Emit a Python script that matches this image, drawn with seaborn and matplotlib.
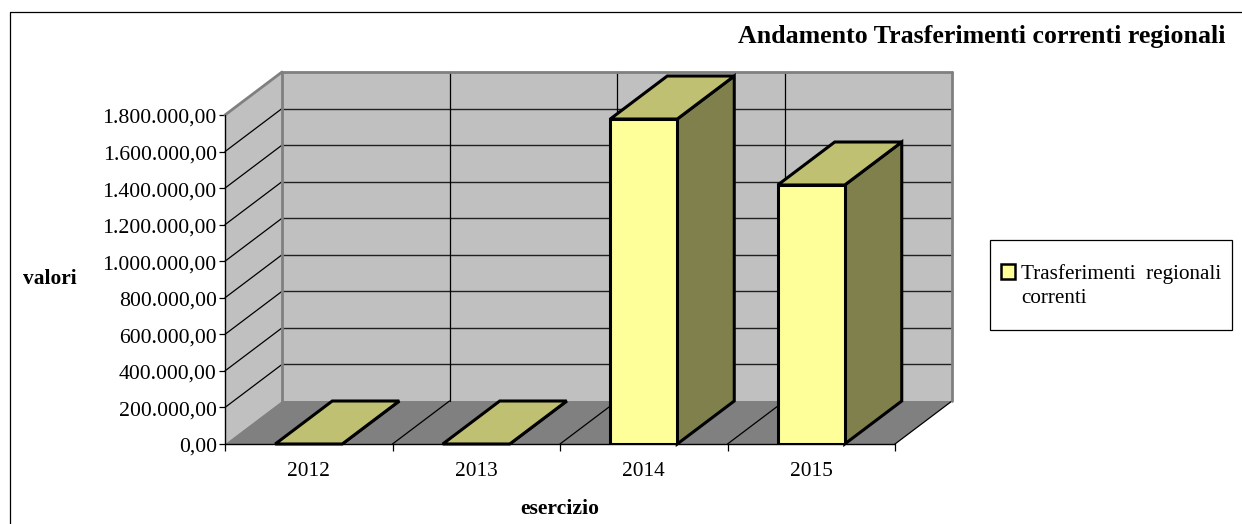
# 3D-look column chart, drawn on a plain seaborn barplot
import seaborn as sns
import matplotlib.pyplot as plt
from matplotlib.patches import Polygon, Rectangle, Patch
from matplotlib.lines import Line2D
from matplotlib.ticker import FuncFormatter
from matplotlib.transforms import Affine2D

years = ["2012", "2013", "2014", "2015"]
values = [0, 0, 1778000, 1417000]
y_ticks = [0, 200000, 400000, 600000, 800000, 1000000, 1200000, 1400000, 1600000, 1800000]
series_lines = ["Trasferimenti  regionali", "correnti"]

W, H = 1242, 524
DX, DY = 57, 43  # depth of the fake 3D, in pixels

sns.set_theme(style="white")
plt.rcParams["font.family"] = ["Liberation Serif", "DejaVu Serif"]
plt.rcParams["text.color"] = "black"
plt.rcParams["xtick.labelcolor"] = "black"
plt.rcParams["ytick.labelcolor"] = "black"

fig = plt.figure(figsize=(W / 100, H / 100), dpi=100)
ax = fig.add_axes([225 / W, (H - 444) / H, 670 / W, 329 / H])
ax.patch.set_alpha(0)

# front faces
sns.barplot(x=years, y=values, color="#FFFF99", saturation=1, width=0.4,
            edgecolor="black", linewidth=2.2, label=series_lines[0], ax=ax, zorder=5)
ax.set_xlim(-0.5, 3.5)
ax.set_ylim(0, max(y_ticks))


def px(x, y):
    return ax.transData.transform((x, y))


def face(points, color, edge="none", lw=0, z=1):
    ax.add_patch(Polygon(points, closed=True, facecolor=color, edgecolor=edge, linewidth=lw,
                         transform=None, clip_on=False, zorder=z, joinstyle="miter"))


def line(a, b, color="black", lw=0.9, z=2):
    ax.add_line(Line2D([a[0], b[0]], [a[1], b[1]], color=color, linewidth=lw,
                       transform=None, clip_on=False, zorder=z))


def back(p):
    return (p[0] + DX, p[1] + DY)


x0, x1 = ax.get_xlim()
y0, y1 = ax.get_ylim()
bl, br, tl, tr = px(x0, y0), px(x1, y0), px(x0, y1), px(x1, y1)
bars = list(ax.patches)

# walls and floor
face([back(bl), back(br), back(tr), back(tl)], "#C0C0C0")
face([bl, back(bl), back(tl), tl], "#C0C0C0")
face([bl, br, back(br), back(bl)], "#808080")

# grid on the walls
for t in y_ticks[1:-1]:
    p = px(x0, t)
    line(p, back(p))
    line(back(p), back(px(x1, t)), color="#202020", lw=1.0)
for b in [x0 + 1, x0 + 2, x0 + 3]:
    line(back(px(b, y0)), back(px(b, y1)))
    line(px(b, y0), back(px(b, y0)))
line(br, back(br))

# grey outline of the walls
line(tl, back(tl), color="#808080", lw=2.0, z=3)
line(back(tl), back(tr), color="#808080", lw=2.0, z=3)
line(back(tr), back(br), color="#808080", lw=2.0, z=3)
line(back(tl), back(bl), color="#808080", lw=2.0, z=3)

# top and side faces taken from the bars
for bar in bars:
    bx, bw, bh = bar.get_x(), bar.get_width(), bar.get_height()
    a, b = px(bx + bw, 0), px(bx + bw, bh)
    c = px(bx, bh)
    face([a, back(a), back(b), b], "#80804D", "black", 2.2, z=4)
    face([c, b, back(b), back(c)], "#C0C073", "black", 2.2, z=4)

# axes, the front edges go over the walls
sns.despine(ax=ax, top=True, right=True)
for s in ["left", "bottom"]:
    ax.spines[s].set_visible(False)
line(bl, tl, lw=1.0, z=7)
line(bl, br, lw=1.0, z=4.5)

ax.set_yticks(y_ticks)
ax.yaxis.set_major_formatter(FuncFormatter(
    lambda v, pos: f"{v:,.2f}".replace(",", "#").replace(".", ",").replace("#", ".")))
ax.tick_params(axis="y", length=4.5, width=0.9, color="black", pad=1.5, labelsize=15.7, left=True)
for lab in ax.get_yticklabels():
    lab.set_transform(lab.get_transform() + Affine2D().translate(0, -1))
ax.set_xticks(range(len(years)))
ax.set_xticklabels(years)
ax.tick_params(axis="x", which="major", length=0, pad=13, labelsize=15.4)
ax.set_xticks([x0, x0 + 1, x0 + 2, x0 + 3, x1], minor=True)
ax.tick_params(axis="x", which="minor", length=5, width=0.9, color="black", bottom=True)
ax.set_xlabel("")
ax.set_ylabel("")

fig.text(50 / W, 1 - 279 / H, "valori", ha="center", va="center", fontsize=15.4, fontweight="bold")
fig.text(560 / W, 1 - 509 / H, "esercizio", ha="center", va="center", fontsize=15.6, fontweight="bold")
fig.text(1226 / W, 1 - 36.5 / H, "Andamento Trasferimenti correnti regionali", ha="right", va="center",
         fontsize=18.6, fontweight="bold")

# outer chart frame, only left and top reach the picture
fig.add_artist(Line2D([10 / W, 10 / W, 1], [0, 1 - 12 / H, 1 - 12 / H], color="black", linewidth=0.9))

# legend box
fig.add_artist(Rectangle((990 / W, 1 - 330 / H), 242 / W, 90 / H, transform=fig.transFigure,
                         facecolor="white", edgecolor="black", linewidth=0.9, zorder=-1))
swatch = ax.get_legend_handles_labels()[0][0]
leg = ax.legend([swatch, Patch(alpha=0)], series_lines, loc="upper left",
                bbox_to_anchor=(1001 / W, 1 - 264 / H), bbox_transform=fig.transFigure,
                frameon=False, fontsize=15.2, handlelength=0.65, handleheight=0.65, handletextpad=0.3,
                borderpad=0, borderaxespad=0, labelspacing=0.2)
leg.get_patches()[0].set_edgecolor("black")
leg.get_patches()[0].set_linewidth(1.8)
leg.get_patches()[1].set_linewidth(0)
leg.set_zorder(10)

fig.savefig("out.png", dpi=100)
